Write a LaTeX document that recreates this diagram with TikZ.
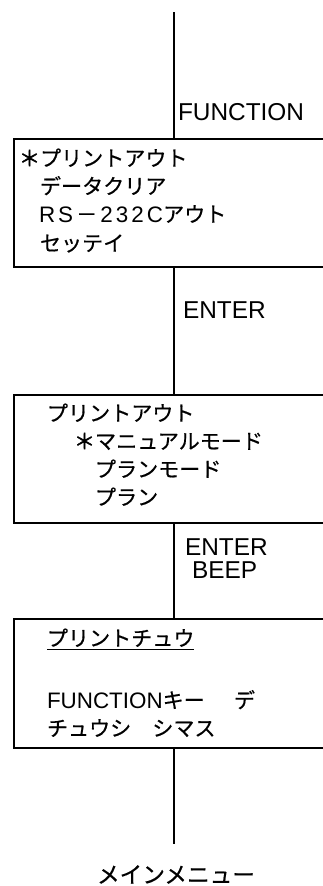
\documentclass[tikz,border=0pt]{standalone}
\usepackage{fontspec}
\setmainfont{Liberation Sans}
\newfontfamily\jp[FakeBold=0.5]{Noto Sans CJK JP}
\newcommand\J[1]{{\jp\fontsize{15.8pt}{18pt}\selectfont#1}}
\newcommand\Jb[1]{{\jp\fontsize{17pt}{20pt}\selectfont#1}}
\newcommand\Ast{{\jp\fontsize{15.8pt}{18pt}\selectfont\addfontfeatures{FakeBold=2}＊}}
\tikzset{
  menubox/.style={draw, line width=1.8pt, rectangle, anchor=north west, inner sep=0pt, outer sep=0pt,
    minimum width=244.5pt, minimum height=96pt},
  txt/.style={anchor=base west, inner sep=0pt, outer sep=0pt, font=\fontsize{16.8pt}{20pt}\selectfont},
  lbl/.style={anchor=base west, inner sep=0pt, outer sep=0pt, font=\fontsize{18.3pt}{21pt}\selectfont},
  conn/.style={line width=1.5pt}
}
\begin{document}
\begin{tikzpicture}[x=0.75pt,y=-0.75pt]
\useasboundingbox (0,0) rectangle (323,886);
\clip (0,0) rectangle (323,886);
% boxes
\node[menubox] (b1) at (14,139) {};
\node[menubox] (b2) at (14,395) {};
\node[menubox, minimum height=96.75pt] (b3) at (14,619) {};
% connector ends
\coordinate (top) at (174,12);
\coordinate (bot) at (174,844);
\draw[conn] (top) -- (b1.north -| top);
\draw[conn] (b1.south -| top) -- (b2.north -| top);
\draw[conn] (b2.south -| top) -- (b3.north -| top);
\draw[conn] (b3.south -| top) -- (bot);
% labels
\node[lbl] (lf) at (178,120.5) {FUNCTION};
\node[lbl] (le1) at (183,318.5) {ENTER};
\node[lbl] (le2) at (185,555.5) {ENTER};
\node[lbl] (lb) at (192,578.5) {BEEP};
\node[anchor=base, inner sep=0pt] (mm) at (176,883) {\Jb{メインメニュー}};
% box 1
\node[txt] (r11) at (19,166) {\Ast\J{プリントアウト}};
\node[txt] (r12) at (40,194) {\J{データクリア}};
\node[txt] (r13) at (39,222) {R\kern2.3pt S\kern2.3pt\J{－}\kern2.3pt 2\kern2.3pt 3\kern2.3pt 2\kern2.3pt C\J{アウト}};
\node[txt] (r14) at (40,251) {\J{セッテイ}};
% box 2
\node[txt] (r21) at (47,421) {\J{プリントアウト}};
\node[txt] (r22) at (74,449) {\Ast\J{マニュアルモード}};
\node[txt] (r23) at (95,477) {\J{プランモード}};
\node[txt] (r24) at (95,505) {\J{プラン}};
% box 3
\node[txt] (r31) at (47,646) {\J{プリントチュウ}};
\draw[line width=1.3pt] ([yshift=-2.6pt]r31.base west) -- ([yshift=-2.6pt]r31.base east);
\node[txt] (r32) at (47,708) {FUNCTION\J{キー}\hspace{1.3em}\J{デ}};
\node[txt] (r33) at (47,736) {\J{チュウシ　シマス}};
\end{tikzpicture}
\end{document}
